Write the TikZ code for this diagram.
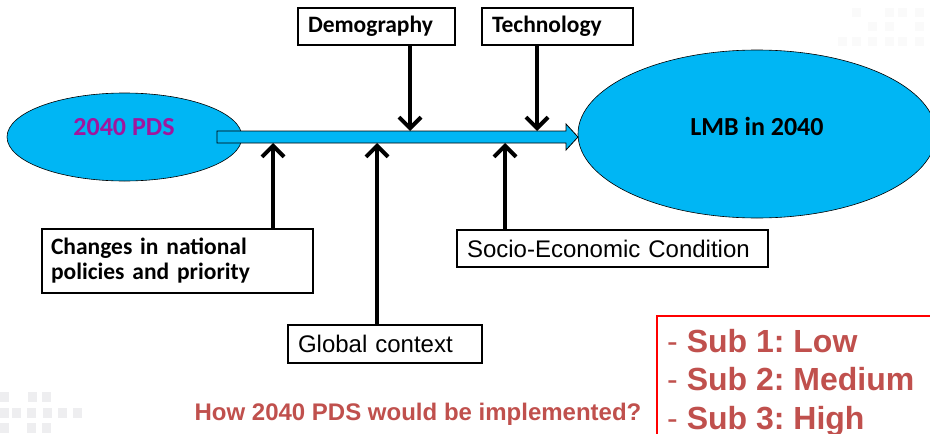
\documentclass[tikz,border=0pt]{standalone}
\usepackage{fontspec}
\setmainfont{Liberation Sans}
\newfontfamily\calfont{Carlito}
\newfontfamily\arifont{Liberation Sans}
\usetikzlibrary{arrows.meta,shapes.geometric,calc}
\definecolor{sky}{HTML}{00B6F4}
\definecolor{pdspurple}{HTML}{A0169E}
\definecolor{redtext}{HTML}{C0504D}
\definecolor{decor}{HTML}{EEEEF0}
\frenchspacing
\tikzset{
  blob/.style={ellipse, draw=black, line width=0.6pt, fill=sky, inner sep=0pt},
  factor/.style={draw=black, line width=1.8pt, rectangle, inner sep=0pt, align=left, fill=white},
  calbold/.style={font=\calfont\bfseries\fontsize{23.5}{25}\selectfont},
  arial/.style={font=\arifont\fontsize{24}{28}\selectfont},
  push/.style={line width=4.5pt, -{Straight Barb[length=11pt,width=22pt,line width=4pt]}},
  sq/.style={fill=decor, draw=none}
}
\begin{document}
\begin{tikzpicture}[x=1pt,y=-1pt]
\useasboundingbox (0,0) rectangle (930,434);
\fill[white] (0,0) rectangle (930,434);
% faint decorative squares
\foreach \x/\y in {0/392,28/392,42/392,0/408,12/408,27/408,43/408,58/408,73/408,0/423,27/423,42/423}
  \fill[sq] (\x,\y) rectangle ++(9,10);
\foreach \x/\y in {852/8,885/8,898/8,915/8,868/22,885/22,915/22,838/37,852/37,868/37,885/37,898/37,915/37}
  \fill[decor!30!white] (\x,\y) rectangle ++(9,9);
% ellipses
\node[blob, minimum width=235pt, minimum height=88pt] (pds) at (124.5,137) {};
\node[font=\calfont\bfseries\fontsize{26}{28}\selectfont, text=pdspurple] (pdst) at (124,127) {2040 PDS};
\node[blob, minimum width=358pt, minimum height=168pt] (lmb) at (757,134) {};
\node[font=\calfont\bfseries\fontsize{26}{28}\selectfont] (lmbt) at (757,126) {LMB in 2040};
% main arrow
\coordinate (a0) at (217,137);
\coordinate (a1) at (578,137);
\draw[fill=sky, line width=0.8pt] ($(a0)+(0,-6)$) -- (566,131) -- (566,124) -- (a1) -- (566,150) -- (566,143) -- ($(a0)+(0,6)$) -- cycle;
% top factor boxes
\node[factor, calbold, minimum width=157pt, minimum height=37pt, text width=137pt] (demo) at (376.5,26.5) {Demography};
\node[factor, calbold, minimum width=151pt, minimum height=37pt, text width=131pt] (tech) at (557.5,26.5) {Technology};
% bottom factor boxes
\node[factor, calbold, minimum width=271pt, minimum height=64pt, text width=253pt] (chg) at (177.5,261) {Changes in national\\policies and priority};
\node[factor, arial, minimum width=311pt, minimum height=37pt, text width=291pt] (soc) at (612.5,248.5) {Socio-Economic Condition};
\node[factor, arial, minimum width=194pt, minimum height=38pt, text width=174pt] (glob) at (385,344) {Global context};
% shaft contact points
\coordinate (d1) at (410,131);
\coordinate (t1) at (537,131);
\coordinate (u1) at (273,143);
\coordinate (u2) at (377,143);
\coordinate (u3) at (505,143);
\draw[push] (demo.south -| d1) -- (d1);
\draw[push] (tech.south -| t1) -- (t1);
\draw[push] (chg.north -| u1) -- (u1);
\draw[push] (glob.north -| u2) -- (u2);
\draw[push] (soc.north -| u3) -- (u3);
% scenario box
\draw[red, line width=1.6pt] (657,440) -- (657,316) -- (940,316);
\node[anchor=north west, inner sep=0pt, text=redtext, align=left, font=\arifont\fontsize{32}{38.5}\selectfont] (subs) at (667,329)
  {- \textbf{Sub 1: Low}\\- \textbf{Sub 2: Medium}\\- \textbf{Sub 3: High}};
% question
\node[text=redtext, font=\arifont\bfseries\fontsize{24}{26}\selectfont] (q) at (418,414) {How 2040 PDS would be implemented?};
\end{tikzpicture}
\end{document}
